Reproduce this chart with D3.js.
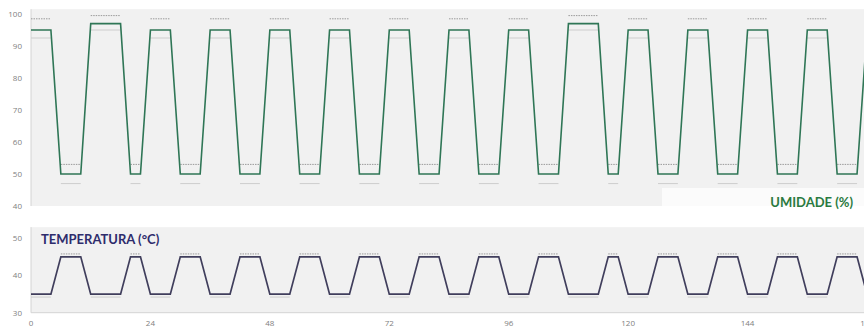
<!DOCTYPE html>
<html>
<head>
<meta charset="utf-8">
<script src="https://cdn.jsdelivr.net/npm/d3@7"></script>
<style>
  html, body { margin: 0; padding: 0; background: #ffffff; }
  svg { display: block; }
</style>
</head>
<body>
<svg id="chart" width="864" height="327"></svg>
<script>
// Breakpoints of the 7-day cycle (hours)
const hours = [0, 4, 6, 10, 12, 18, 20, 22, 24, 28, 30, 34, 36, 40, 42, 46, 48, 52, 54, 58,
  60, 64, 66, 70, 72, 76, 78, 82, 84, 88, 90, 94, 96, 100, 102, 106, 108, 114, 116, 118,
  120, 124, 126, 130, 132, 136, 138, 142, 144, 148, 150, 154, 156, 160, 162, 166, 168];

// Relative humidity setpoint (%)
const humidity = [95, 95, 50, 50, 97, 97, 50, 50, 95, 95, 50, 50, 95, 95, 50, 50, 95, 95, 50, 50,
  95, 95, 50, 50, 95, 95, 50, 50, 95, 95, 50, 50, 95, 95, 50, 50, 97, 97, 50, 50,
  95, 95, 50, 50, 95, 95, 50, 50, 95, 95, 50, 50, 95, 95, 50, 50, 95];
// Humidity upper limit (dotted) and lower limit (light)
const humidityUpper = [98.5, 98.5, 53, 53, 99.5, 99.5, 53, 53, 98.5, 98.5, 53, 53, 98.5, 98.5, 53, 53, 98.5, 98.5, 53, 53,
  98.5, 98.5, 53, 53, 98.5, 98.5, 53, 53, 98.5, 98.5, 53, 53, 98.5, 98.5, 53, 53, 99.5, 99.5, 53, 53,
  98.5, 98.5, 53, 53, 98.5, 98.5, 53, 53, 98.5, 98.5, 53, 53, 98.5, 98.5, 53, 53, 98.5];
const humidityLower = [92.5, 92.5, 47, 47, 95, 95, 47, 47, 92.5, 92.5, 47, 47, 92.5, 92.5, 47, 47, 92.5, 92.5, 47, 47,
  92.5, 92.5, 47, 47, 92.5, 92.5, 47, 47, 92.5, 92.5, 47, 47, 92.5, 92.5, 47, 47, 95, 95, 47, 47,
  92.5, 92.5, 47, 47, 92.5, 92.5, 47, 47, 92.5, 92.5, 47, 47, 92.5, 92.5, 47, 47, 92.5];

// Temperature setpoint (°C)
const temperature = [35, 35, 45, 45, 35, 35, 45, 45, 35, 35, 45, 45, 35, 35, 45, 45, 35, 35, 45, 45,
  35, 35, 45, 45, 35, 35, 45, 45, 35, 35, 45, 45, 35, 35, 45, 45, 35, 35, 45, 45,
  35, 35, 45, 45, 35, 35, 45, 45, 35, 35, 45, 45, 35, 35, 45, 45, 35];
const temperatureUpper = [null, null, 45.8, 45.8, null, null, 45.8, 45.8, null, null, 45.8, 45.8, null, null, 45.8, 45.8, null, null, 45.8, 45.8,
  null, null, 45.8, 45.8, null, null, 45.8, 45.8, null, null, 45.8, 45.8, null, null, 45.8, 45.8, null, null, 45.8, 45.8,
  null, null, 45.8, 45.8, null, null, 45.8, 45.8, null, null, 45.8, 45.8, null, null, 45.8, 45.8, null];
const temperatureLower = [34.2, 34.2, null, null, 34.2, 34.2, null, null, 34.2, 34.2, null, null, 34.2, 34.2, null, null, 34.2, 34.2, null, null,
  34.2, 34.2, null, null, 34.2, 34.2, null, null, 34.2, 34.2, null, null, 34.2, 34.2, null, null, 34.2, 34.2, null, null,
  34.2, 34.2, null, null, 34.2, 34.2, null, null, 34.2, 34.2, null, null, 34.2, 34.2, null, null, 34.2];

const xTicks = [0, 24, 48, 72, 96, 120, 144, 168];
const humidityTicks = [40, 50, 60, 70, 80, 90, 100];
const temperatureTicks = [30, 40, 50];

const svg = d3.select("#chart");
const font = "'Open Sans', 'DejaVu Sans', sans-serif";
const titleFont = "Lato, 'Open Sans', sans-serif";

const x = d3.scaleLinear().domain([0, 168]).range([31, 867]);
const yHum = d3.scaleLinear().domain([40, 100]).range([206, 14]);
const yTemp = d3.scaleLinear().domain([30, 50]).range([312.7, 238.3]);

// Panel backgrounds
svg.append("rect")
  .attr("x", x(0)).attr("y", yHum(101.5))
  .attr("width", 864 - x(0)).attr("height", yHum(40) - yHum(101.5))
  .attr("fill", "#f1f1f1");
svg.append("rect")
  .attr("x", x(0)).attr("y", yTemp(53))
  .attr("width", 864 - x(0)).attr("height", yTemp(30) - yTemp(53))
  .attr("fill", "#f1f1f1");
// Backing box of the humidity title
svg.append("rect")
  .attr("x", 662).attr("y", 188).attr("width", 202).attr("height", yHum(40) - 188)
  .attr("fill", "#fbfbfb");

// Left axis lines
svg.append("line")
  .attr("x1", x(0)).attr("x2", x(0))
  .attr("y1", yHum(101.5)).attr("y2", yHum(40))
  .attr("stroke", "#d4d4d4").attr("stroke-width", 1);
svg.append("line")
  .attr("x1", x(0)).attr("x2", x(0))
  .attr("y1", yTemp(53)).attr("y2", yTemp(30))
  .attr("stroke", "#d4d4d4").attr("stroke-width", 1);
// Bottom axis line
svg.append("line")
  .attr("x1", x(0)).attr("x2", 864)
  .attr("y1", yTemp(30)).attr("y2", yTemp(30))
  .attr("stroke", "#d4d4d4").attr("stroke-width", 1);

// Y tick labels
function yLabels(scale, ticks) {
  svg.append("g").selectAll("text").data(ticks).join("text")
    .attr("x", 22).attr("y", d => scale(d))
    .attr("dy", "0.35em")
    .attr("text-anchor", "end")
    .attr("font-family", font).attr("font-size", 8)
    .attr("fill", "#808080")
    .text(d => d);
}
yLabels(yHum, humidityTicks);
yLabels(yTemp, temperatureTicks);

// X tick labels
svg.append("g").selectAll("text").data(xTicks).join("text")
  .attr("x", d => x(d)).attr("y", 323)
  .attr("dy", "0.35em")
  .attr("text-anchor", "middle")
  .attr("font-family", font).attr("font-size", 8)
  .attr("fill", "#808080")
  .text(d => d);

// Flat limit segments: drawn only where consecutive breakpoints share a value
function limitSegments(values, scale, style) {
  const segs = [];
  for (let i = 0; i < hours.length - 1; i++) {
    if (values[i] != null && values[i] === values[i + 1]) {
      segs.push([[hours[i], values[i]], [hours[i + 1], values[i + 1]]]);
    }
  }
  const line = d3.line().x(d => x(d[0])).y(d => scale(d[1]));
  svg.append("g").selectAll("path").data(segs).join("path")
    .attr("d", line)
    .attr("fill", "none")
    .attr("stroke", style.color)
    .attr("stroke-width", style.width)
    .attr("stroke-dasharray", style.dash || null);
}

const dotted = { color: "#9a9a9a", width: 1, dash: "1.5,1" };
const light = { color: "#cdcdcd", width: 1 };

limitSegments(humidityUpper, yHum, dotted);
limitSegments(humidityLower, yHum, light);
limitSegments(temperatureUpper, yTemp, dotted);
limitSegments(temperatureLower, yTemp, light);

// Setpoint lines
const humLine = d3.line().x((d, i) => x(hours[i])).y(d => yHum(d));
svg.append("path")
  .datum(humidity)
  .attr("d", humLine)
  .attr("fill", "none")
  .attr("stroke", "#2f7656")
  .attr("stroke-width", 1.6)
  .attr("stroke-linejoin", "miter");

const tempLine = d3.line().x((d, i) => x(hours[i])).y(d => yTemp(d));
svg.append("path")
  .datum(temperature)
  .attr("d", tempLine)
  .attr("fill", "none")
  .attr("stroke", "#403e5c")
  .attr("stroke-width", 1.7)
  .attr("stroke-linejoin", "miter");

// Panel titles
svg.append("text")
  .attr("x", 853).attr("y", 202)
  .attr("dy", "0.35em")
  .attr("text-anchor", "end")
  .attr("font-family", titleFont).attr("font-weight", "bold").attr("font-size", 13)
  .attr("fill", "#2a7a40")
  .text("UMIDADE (%)");
svg.append("text")
  .attr("x", 41).attr("y", 239)
  .attr("dy", "0.35em")
  .attr("text-anchor", "start")
  .attr("font-family", titleFont).attr("font-weight", "bold").attr("font-size", 13)
  .attr("fill", "#2e2c6c")
  .text("TEMPERATURA (°C)");
</script>
</body>
</html>
